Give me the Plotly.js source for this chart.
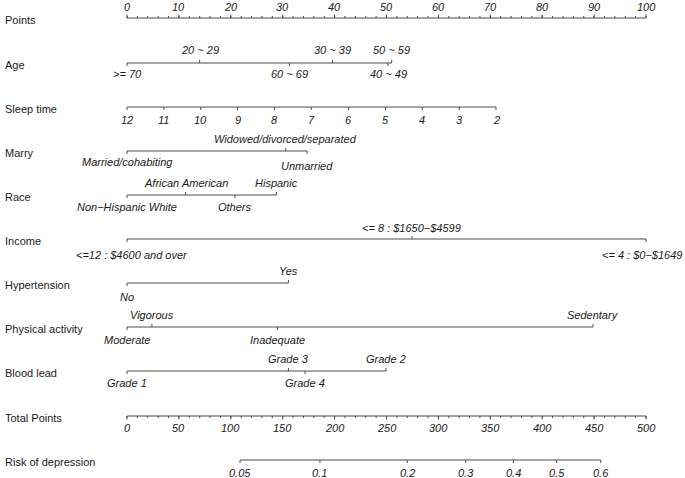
<!DOCTYPE html>
<html><head><meta charset="utf-8">
<script src="https://cdn.plot.ly/plotly-3.0.1.min.js"></script>
<style>html,body{margin:0;padding:0;background:#fff}</style>
</head><body>
<div id="chart" style="width:685px;height:478px"></div>
<script>
// ---------- data ----------
const rowNames = ["Points","Age","Sleep time","Marry","Race","Income","Hypertension","Physical activity","Blood lead","Total Points","Risk of depression"];

const pointsTicks = [0,10,20,30,40,50,60,70,80,90,100];
const pointsMinor = [0,2,4,6,8,10,12,14,16,18,20,22,24,26,28,30,32,34,36,38,40,42,44,46,48,50,52,54,56,58,60,62,64,66,68,70,72,74,76,78,80,82,84,86,88,90,92,94,96,98,100];

const ageLabels = [">= 70","20 ~ 29","60 ~ 69","30 ~ 39","40 ~ 49","50 ~ 59"];
const agePoints = [0,14.0,31.3,39.6,50.3,51.0];
const agePos    = ["below","above","below","above","below","above"];

const sleepLabels = ["12","11","10","9","8","7","6","5","4","3","2"];
const sleepPoints = [0,7.1,14.2,21.3,28.4,35.5,42.7,49.8,56.9,64.0,71.1];

const marryLabels = ["Married/cohabiting","Widowed/divorced/separated","Unmarried"];
const marryPoints = [0,30.6,34.7];
const marryPos    = ["below","above","below"];

const raceLabels = ["Non\u2212Hispanic White","African American","Others","Hispanic"];
const racePoints = [0,11.3,20.8,28.8];
const racePos    = ["below","above","below","above"];

const incomeLabels = ["<=12 : $4600 and over","<= 8 : $1650\u2212$4599","<= 4 : $0\u2212$1649"];
const incomePoints = [0,54.9,100];
const incomePos    = ["below","above","below"];

const hyperLabels = ["No","Yes"];
const hyperPoints = [0,31.1];
const hyperPos    = ["below","above"];

const paLabels = ["Moderate","Vigorous","Inadequate","Sedentary"];
const paPoints = [0,4.8,29.0,89.8];
const paPos    = ["below","above","below","above"];

const leadLabels = ["Grade 1","Grade 3","Grade 4","Grade 2"];
const leadPoints = [0,31.1,34.3,49.9];
const leadPos    = ["below","above","below","above"];

const totalTicks = [0,50,100,150,200,250,300,350,400,450,500];
const totalMinor = [0,10,20,30,40,50,60,70,80,90,100,110,120,130,140,150,160,170,180,190,200,210,220,230,240,250,260,270,280,290,300,310,320,330,340,350,360,370,380,390,400,410,420,430,440,450,460,470,480,490,500];

const riskLabels = ["0.05","0.1","0.2","0.3","0.4","0.5","0.6"];
const riskTotal  = [108.9,185.9,270.0,326.3,372.2,413.9,456.4];

// ---------- layout constants ----------
const rowY = [18,63,107,151,195,239,283,327,371,416,460];
const LINE = "#4d4d4d";
const TXT = "#1a1a1a";
const FONT = "Liberation Sans, Arial, sans-serif";
const totalScale = 100/500; // total points drawn on the points scale

const traces = [];
const annotations = [];

function lineTrace(xs, ys, w) {
  traces.push({type:"scatter", mode:"lines", x:xs, y:ys, hoverinfo:"skip",
    line:{color:LINE, width:w||1.2}, showlegend:false});
}

function addTicks(xs, y, dirs, len) {
  const tx=[], ty=[];
  xs.forEach((x,i)=>{ const d = dirs[i]==="above" ? -1 : 1;
    tx.push(x,x,null); ty.push(y, y+d*len, null); });
  lineTrace(tx, ty, 1);
}

function addLabels(xs, labels, y, dirs, offUp, offDown, opts) {
  xs.forEach((x,i)=>{
    const above = dirs[i]==="above";
    const a = {x:x, y: above ? y-offUp : y+offDown, xref:"x", yref:"y",
      text:"<i>"+labels[i]+"</i>", showarrow:false, xanchor:"center", yanchor:"middle",
      font:{family:FONT, size:11, color:TXT}};
    if (opts && opts[i]) {
      const o = opts[i];
      if (o.dy) a.y += o.dy;
      if (o.xanchor) a.xanchor = o.xanchor;
      if (o.x !== undefined) a.x = o.x;
    }
    annotations.push(a);
  });
}

// row names
rowNames.forEach((n,i)=>{
  annotations.push({xref:"paper", yref:"y", x:0.004, y:rowY[i]+1.5, text:n, showarrow:false,
    xanchor:"left", yanchor:"middle", font:{family:FONT, size:11, color:TXT}});
});

// Points axis
lineTrace([pointsTicks[0], pointsTicks[pointsTicks.length-1]], [rowY[0], rowY[0]]);
addTicks(pointsMinor, rowY[0], pointsMinor.map(()=> "above"), 2);
addTicks(pointsTicks, rowY[0], pointsTicks.map(()=> "above"), 3.5);
addLabels(pointsTicks, pointsTicks.map(String), rowY[0], pointsTicks.map(()=> "above"), 11, 11);

// categorical / continuous variable rows
function varRow(idx, pts, labels, pos, opts) {
  const y = rowY[idx];
  lineTrace([Math.min(...pts), Math.max(...pts)], [y,y]);
  addTicks(pts, y, pos, 3);
  addLabels(pts, labels, y, pos, 12, 12, opts);
}
varRow(1, agePoints, ageLabels, agePos, [{dy:-1},{dy:-1},{dy:-1},{dy:-1},{dy:-1},{dy:-1}]);
varRow(2, sleepPoints, sleepLabels, sleepPoints.map(()=> "below"), sleepPoints.map(()=>({dy:1})));
varRow(3, marryPoints, marryLabels, marryPos, [{dy:-1},null,{dy:3}]);
varRow(4, racePoints, raceLabels, racePos);
varRow(5, incomePoints, incomeLabels, incomePos, [{dy:3.5, x:1},{dy:1},{dy:3.5, xanchor:"right", x:107.3}]);
varRow(6, hyperPoints, hyperLabels, hyperPos, [{dy:2},null]);
varRow(7, paPoints, paLabels, paPos, [{dy:0.5},null,{dy:0.5},null]);
varRow(8, leadPoints, leadLabels, leadPos);

// Total points axis
const tMaj = totalTicks.map(v=>v*totalScale), tMin = totalMinor.map(v=>v*totalScale);
lineTrace([tMaj[0], tMaj[tMaj.length-1]], [rowY[9], rowY[9]]);
addTicks(tMin, rowY[9], tMin.map(()=> "below"), 2);
addTicks(tMaj, rowY[9], tMaj.map(()=> "below"), 3.5);
addLabels(tMaj, totalTicks.map(String), rowY[9], tMaj.map(()=> "below"), 11, 12);

// Risk axis
const rX = riskTotal.map(v=>v*totalScale);
lineTrace([rX[0], rX[rX.length-1]], [rowY[10], rowY[10]]);
addTicks(rX, rowY[10], rX.map(()=> "below"), 3);
addLabels(rX, riskLabels, rowY[10], rX.map(()=> "below"), 11, 12.5);

const layout = {
  width:685, height:478, margin:{l:0,r:0,t:0,b:0},
  paper_bgcolor:"#fff", plot_bgcolor:"#fff",
  xaxis:{range:[-127/5.19, 100+39/5.19], visible:false, fixedrange:true},
  yaxis:{range:[478,0], visible:false, fixedrange:true},
  annotations:annotations, showlegend:false
};
Plotly.newPlot("chart", traces, layout, {staticPlot:true, displayModeBar:false});
</script>
</body></html>
